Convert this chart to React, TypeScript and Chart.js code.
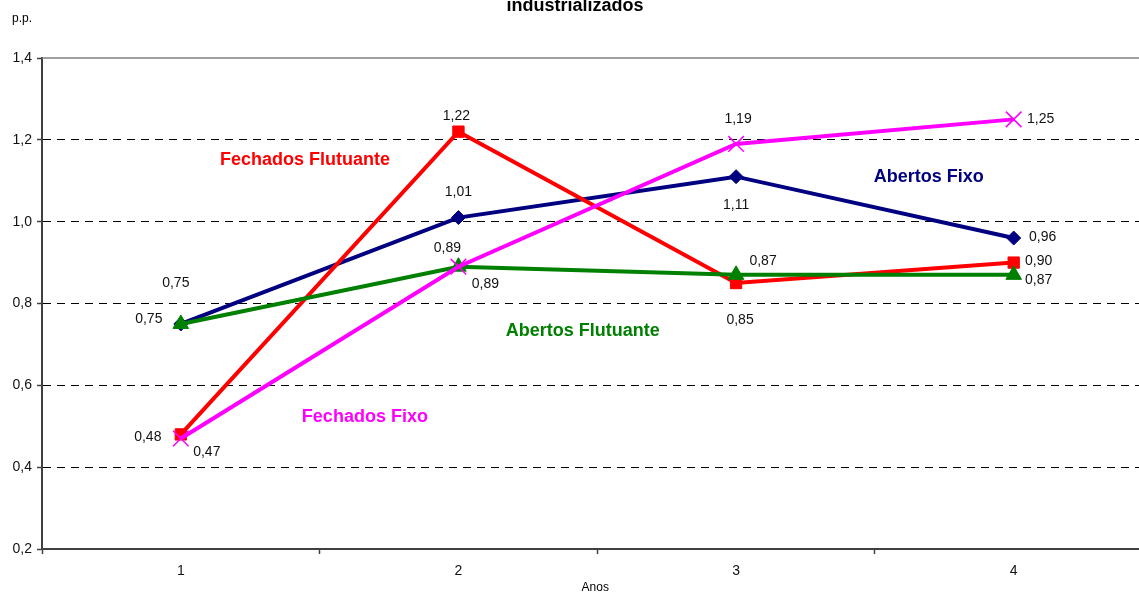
import React, { useEffect, useRef } from 'react';
import { Chart, registerables } from 'chart.js';

Chart.register(...registerables);

// Categories (years) and series values, in p.p.
const anos = ['1', '2', '3', '4'];
const abertosFixo = [0.75, 1.01, 1.11, 0.96];
const fechadosFlutuante = [0.48, 1.22, 0.85, 0.9];
const abertosFlutuante = [0.75, 0.89, 0.87, 0.87];
const fechadosFixo = [0.47, 0.89, 1.19, 1.25];

// Y-axis range and step
const yMin = 0.2;
const yMax = 1.4;
const yStep = 0.2;

const FONT = '"Liberation Sans", Arial, Helvetica, sans-serif';

const NAVY = '#000080';
const RED = '#FF0000';
const GREEN = '#008000';
const MAGENTA = '#FF00FF';

// The plot area runs a little past the right edge of the window
const CANVAS_W = 1165;
const CANVAS_H = 592;

// Pixel offsets of each value label from its point (one row per dataset, same order as datasets)
const labelOffsets: number[][][] = [
  [[26, 14], [27, 17], [2, -25], [27, 0]], // Fechados Fixo
  [[-32, -5], [-11, -19], [27, -14], [25, 5]], // Abertos Flutuante
  [[-33, 3], [-2, -16], [4, 37], [25, -1]], // Fechados Flutuante
  [[-5, -41], [0, -25], [0, 28], [29, -1]], // Abertos Fixo
];

// Series name annotations placed in data units (category position, value)
const seriesNotes = [
  { text: 'Fechados Flutuante', color: RED, x: 1.447, y: 1.151 },
  { text: 'Abertos Fixo', color: NAVY, x: 3.694, y: 1.109 },
  { text: 'Abertos Flutuante', color: GREEN, x: 2.448, y: 0.733 },
  { text: 'Fechados Fixo', color: MAGENTA, x: 1.663, y: 0.523 },
];

const fmt = (v: number, digits: number) => v.toFixed(digits).replace('.', ',');

const overlayPlugin = {
  id: 'overlay',
  afterDatasetsDraw(chart: any) {
    const { ctx, chartArea } = chart;
    const { left, right, top, bottom } = chartArea;
    const xs = chart.scales.x;
    const ys = chart.scales.y;
    ctx.save();

    // plot-area top edge
    ctx.strokeStyle = '#808080';
    ctx.lineWidth = 1.5;
    ctx.setLineDash([]);
    ctx.beginPath();
    ctx.moveTo(left, top);
    ctx.lineTo(right, top);
    ctx.stroke();

    // value labels
    ctx.font = `14px ${FONT}`;
    ctx.fillStyle = '#111';
    ctx.textAlign = 'center';
    ctx.textBaseline = 'middle';
    chart.data.datasets.forEach((ds: any, i: number) => {
      const meta = chart.getDatasetMeta(i);
      meta.data.forEach((pt: any, j: number) => {
        const [dx, dy] = labelOffsets[i][j];
        ctx.fillText(fmt(ds.data[j], 2), pt.x + dx, pt.y + dy);
      });
    });

    // series names
    const x0 = xs.getPixelForValue(0);
    const x1 = xs.getPixelForValue(1);
    ctx.font = `bold 18px ${FONT}`;
    seriesNotes.forEach((n) => {
      ctx.fillStyle = n.color;
      const px = x0 + (n.x - 1) * (x1 - x0);
      ctx.fillText(n.text, px, ys.getPixelForValue(n.y));
    });

    // unit and axis title
    ctx.fillStyle = '#000';
    ctx.font = `12px ${FONT}`;
    ctx.textBaseline = 'alphabetic';
    ctx.fillText('p.p.', 22, 22);
    ctx.fillText('Anos', (left + right) / 2 - 2, bottom + 42);

    // chart title (its upper line sits above the top edge)
    ctx.font = `bold 18px ${FONT}`;
    ctx.fillText('industrializados', 575, 11);

    ctx.restore();
  },
};

export default function App() {
  const canvasRef = useRef<HTMLCanvasElement>(null);

  useEffect(() => {
    const canvas = canvasRef.current;
    if (!canvas) return;
    Chart.defaults.font.family = FONT;

    const chart = new Chart(canvas, {
      type: 'line',
      data: {
        labels: anos,
        datasets: [
          {
            label: 'Fechados Fixo',
            data: fechadosFixo,
            borderColor: MAGENTA,
            backgroundColor: MAGENTA,
            borderWidth: 4,
            pointStyle: 'crossRot',
            pointRadius: 11,
            pointBorderWidth: 1.5,
            pointBorderColor: MAGENTA,
            order: 1,
          },
          {
            label: 'Abertos Flutuante',
            data: abertosFlutuante,
            borderColor: GREEN,
            backgroundColor: GREEN,
            borderWidth: 4,
            pointStyle: 'triangle',
            pointRadius: 9,
            pointBorderWidth: 1,
            pointBorderColor: GREEN,
            pointBackgroundColor: GREEN,
            order: 2,
          },
          {
            label: 'Fechados Flutuante',
            data: fechadosFlutuante,
            borderColor: RED,
            backgroundColor: RED,
            borderWidth: 4,
            pointStyle: 'rect',
            pointRadius: 8,
            pointBorderWidth: 1,
            pointBorderColor: RED,
            pointBackgroundColor: RED,
            order: 3,
          },
          {
            label: 'Abertos Fixo',
            data: abertosFixo,
            borderColor: NAVY,
            backgroundColor: NAVY,
            borderWidth: 4,
            pointStyle: 'rectRot',
            pointRadius: 7,
            pointBorderWidth: 1,
            pointBorderColor: NAVY,
            pointBackgroundColor: NAVY,
            order: 4,
          },
        ],
      },
      options: {
        animation: false,
        responsive: false,
        devicePixelRatio: 1,
        layout: { padding: { top: 58, right: 0, left: 0, bottom: 0 } },
        plugins: {
          legend: { display: false },
          tooltip: { enabled: false },
          title: { display: false },
        },
        elements: { line: { tension: 0 } },
        scales: {
          x: {
            type: 'category',
            offset: true,
            grid: {
              offset: true,
              drawOnChartArea: false,
              drawTicks: true,
              tickLength: 5,
              tickColor: '#404040',
              tickWidth: 1.5,
            },
            border: { display: true, color: '#404040', width: 2 },
            ticks: {
              color: '#111',
              font: { size: 14, family: FONT },
              padding: 9,
              maxRotation: 0,
            },
            afterFit: (scale: any) => {
              scale.height = 43;
            },
          },
          y: {
            min: yMin,
            max: yMax,
            grid: {
              color: (c: any) => {
                const v = c.tick ? c.tick.value : 0;
                if (Math.abs(v - yMax) < 1e-6 || Math.abs(v - yMin) < 1e-6) return 'rgba(0,0,0,0)';
                return '#000';
              },
              lineWidth: 1,
              drawTicks: true,
              tickLength: 5,
              tickColor: '#404040',
              tickWidth: 1.5,
            },
            border: { display: true, color: '#404040', width: 2, dash: [8, 6] },
            ticks: {
              stepSize: yStep,
              color: '#111',
              font: { size: 14, family: FONT },
              padding: 5,
              callback: (v: any) => fmt(Number(v), 1),
            },
            afterFit: (scale: any) => {
              scale.width = 42;
            },
          },
        },
      },
      plugins: [overlayPlugin],
    });

    return () => chart.destroy();
  }, []);

  return (
    <div style={{ position: 'fixed', left: 0, top: 0, width: CANVAS_W, height: CANVAS_H, background: '#fff' }}>
      <canvas ref={canvasRef} width={CANVAS_W} height={CANVAS_H} style={{ display: 'block' }} />
    </div>
  );
}
